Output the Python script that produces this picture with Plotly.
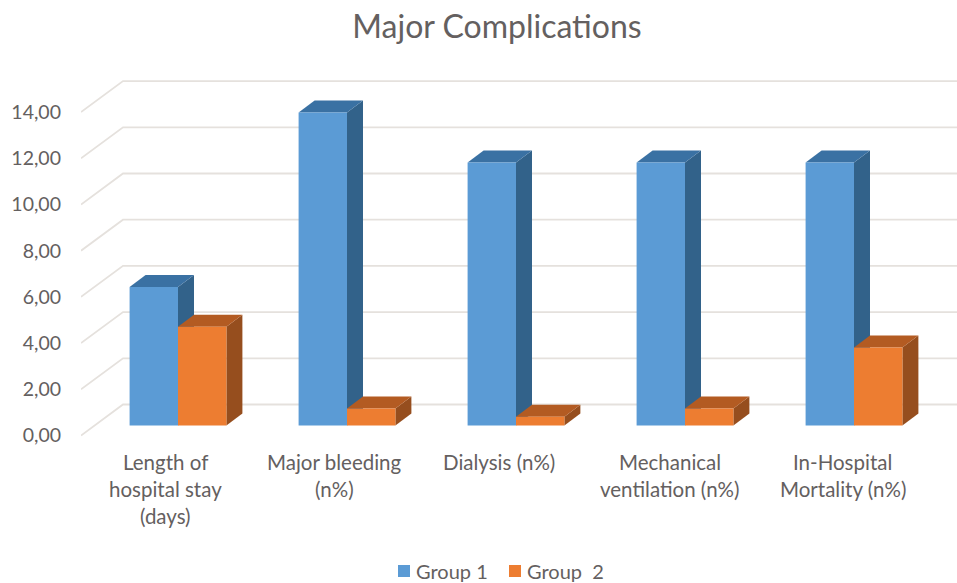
import plotly.graph_objects as go

# Chart data
category_lines = [
    ["Length of", "hospital stay", "(days)"],
    ["Major bleeding", "(n%)"],
    ["Dialysis (n%)"],
    ["Mechanical", "ventilation (n%)"],
    ["In-Hospital", "Mortality (n%)"],
]
series_names = ["Group 1", "Group  2"]
group_1 = [6.0, 13.55, 11.38, 11.38, 11.38]
group_2 = [4.28, 0.74, 0.38, 0.74, 3.38]
y_ticks = [0, 2, 4, 6, 8, 10, 12, 14]
y_tick_labels = ["0,00", "2,00", "4,00", "6,00", "8,00", "10,00", "12,00", "14,00"]

# Canvas and plot area, in pixels
WIDTH, HEIGHT = 957, 583
LEFT, TOP, BOTTOM = 81, 70, 445
SLOT_PX = 169.0
UNIT_PX = 23.1

# Small horizontal nudges for the category captions
CAPTION_NUDGE_PX = [0, 0, -5, -3, 1]

# Oblique projection: depth offsets expressed in axis units
def dx(px):
    return px / SLOT_PX

def dy(px):
    return px / UNIT_PX

WALL_X, WALL_Y = dx(42), dy(31)
FRONT_X, FRONT_Y = dx(12.5), dy(10)
BACK_X, BACK_Y = dx(28.5), dy(22)
BAR_W = dx(48.4)

x_min = -0.5
x_max = x_min + (WIDTH - LEFT) / SLOT_PX
y_min = -(BOTTOM - 435.5) / UNIT_PX
y_max = (435.5 - TOP) / UNIT_PX

GRID = "#e5e1dd"
TEXT = "#646060"
FONT = "Lato"
BLUE = ("#5b9bd5", "#32628a", "#3a71a3")
ORANGE = ("#ed7d31", "#964e1e", "#b35b22")

fig = go.Figure()

# Back wall lines and the diagonals running across the side wall
for t in y_ticks:
    fig.add_trace(go.Scatter(
        x=[x_min, x_min + WALL_X, x_max],
        y=[t, t + WALL_Y, t + WALL_Y],
        mode="lines", line=dict(color=GRID, width=1.8),
        showlegend=False, hoverinfo="skip", zorder=0,
    ))


def add_box(values, left_of_center, colors, name, z):
    """One series: oblique top and side faces, then the front bar."""
    front, side, top = colors
    for i, v in enumerate(values):
        x0 = i + FRONT_X + (-BAR_W if left_of_center else 0)
        x1 = x0 + BAR_W
        depth_x = BACK_X - FRONT_X
        depth_y = BACK_Y - FRONT_Y
        y_top = v + FRONT_Y
        fig.add_trace(go.Scatter(
            x=[x1, x1 + depth_x, x1 + depth_x, x1, x1],
            y=[FRONT_Y, FRONT_Y + depth_y, y_top + depth_y, y_top, FRONT_Y],
            fill="toself", fillcolor=side, mode="none",
            showlegend=False, hoverinfo="skip", zorder=z,
        ))
        fig.add_trace(go.Scatter(
            x=[x0, x1, x1 + depth_x, x0 + depth_x, x0],
            y=[y_top, y_top, y_top + depth_y, y_top + depth_y, y_top],
            fill="toself", fillcolor=top, mode="none",
            showlegend=False, hoverinfo="skip", zorder=z,
        ))
    fig.add_trace(go.Bar(
        x=[i + FRONT_X for i in range(len(values))],
        y=values,
        base=FRONT_Y,
        width=BAR_W,
        offset=-BAR_W if left_of_center else 0,
        marker=dict(color=front, line=dict(width=0)),
        name=name, zorder=z + 1, showlegend=False,
    ))


add_box(group_1, True, BLUE, series_names[0], 1)
add_box(group_2, False, ORANGE, series_names[1], 3)

# Category captions: one annotation per line to keep the wide line spacing
annotations = []
for i, lines in enumerate(category_lines):
    for j, line in enumerate(lines):
        annotations.append(dict(
            x=i, y=0, xref="x", yref="paper", text=line, showarrow=False,
            xanchor="center", yanchor="middle",
            xshift=CAPTION_NUDGE_PX[i], yshift=-17 - 27 * j,
            font=dict(family=FONT, size=20.5, color=TEXT),
        ))


def paper_x(px):
    return (px - LEFT) / (WIDTH - LEFT)


def paper_y(px):
    return (BOTTOM - px) / (BOTTOM - TOP)


# Legend row sits tight against its swatches, closer than the built-in legend allows
shapes = []
for name, color, swatch_x in zip(series_names, (BLUE[0], ORANGE[0]), (398, 509)):
    shapes.append(dict(
        type="rect", xref="paper", yref="paper",
        x0=paper_x(swatch_x), x1=paper_x(swatch_x + 12),
        y0=paper_y(577), y1=paper_y(565),
        fillcolor=color, line=dict(width=0),
    ))
    annotations.append(dict(
        x=paper_x(swatch_x + 16), y=paper_y(571), xref="paper", yref="paper",
        text=name.replace("  ", "\u00a0\u00a0"), showarrow=False,
        xanchor="left", yanchor="middle",
        font=dict(family=FONT, size=20, color=TEXT),
    ))

fig.update_layout(
    width=WIDTH, height=HEIGHT, autosize=False,
    margin=dict(l=LEFT, r=0, t=TOP, b=HEIGHT - BOTTOM, pad=0, autoexpand=False),
    paper_bgcolor="white", plot_bgcolor="white",
    barmode="overlay", showlegend=False,
    font=dict(family=FONT, color=TEXT),
    title=dict(
        text="Major Complications", x=497 / WIDTH, xanchor="center",
        y=1 - 27 / HEIGHT, yanchor="middle",
        font=dict(family=FONT, size=32, color=TEXT),
    ),
    xaxis=dict(
        range=[x_min, x_max], showgrid=False, zeroline=False, showline=False,
        showticklabels=False, ticks="", fixedrange=True,
    ),
    yaxis=dict(
        range=[y_min, y_max], showgrid=False, zeroline=False, showline=False,
        tickmode="array", tickvals=y_ticks, ticktext=y_tick_labels,
        ticks="", ticklabelstandoff=19, fixedrange=True,
        tickfont=dict(family=FONT, size=19.5, color=TEXT),
    ),
    shapes=shapes,
    annotations=annotations,
)

fig.write_html("out.html", config=dict(displayModeBar=False))
